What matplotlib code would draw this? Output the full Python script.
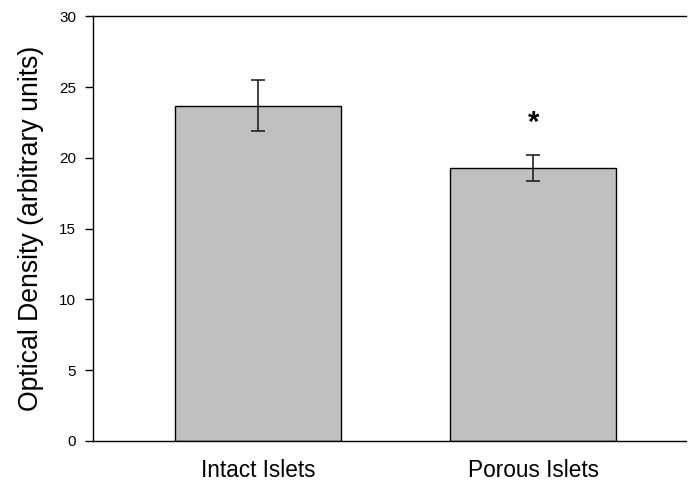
import matplotlib
matplotlib.use("Agg")
import matplotlib.pyplot as plt

categories = ["Intact Islets", "Porous Islets"]
values = [23.68, 19.28]
errors = [1.8, 0.9]
yticks = [0, 5, 10, 15, 20, 25, 30]

plt.rcParams['font.family'] = ['Liberation Sans', 'DejaVu Sans']

fig = plt.figure(figsize=(6.9, 4.82), dpi=100)
ax = fig.add_axes([93/690, 1-441/482, (686-93)/690, (441-16.3)/482])

x = [1, 2]
ax.bar(x, values, width=0.6036, color='#c0c0c0', edgecolor='black', linewidth=1.0)
ax.errorbar(x, values, yerr=errors, fmt='none', ecolor='#222222', elinewidth=1.2,
            capsize=4.8, capthick=1.2)
ax.text(2, values[1] + errors[1] + 2.3, '*', ha='center', va='center', fontsize=21, fontweight='bold')

ax.set_xlim(0.4, 2.556)
ax.set_ylim(0, 30)
ax.set_yticks(yticks)
ax.set_yticklabels([str(t) for t in yticks], fontsize=11)
ax.set_xticks(x)
ax.set_xticklabels(categories, fontsize=16.3)
ax.tick_params(axis='x', length=0, pad=13)
ax.tick_params(axis='y', length=6, width=1, direction='out', pad=6)
ax.spines['right'].set_visible(False)
for s in ['left', 'bottom', 'top']:
    ax.spines[s].set_linewidth(1)
ax.set_ylabel('Optical Density (arbitrary units)', fontsize=19.2, labelpad=11)

fig.savefig('out.png', dpi=100)
